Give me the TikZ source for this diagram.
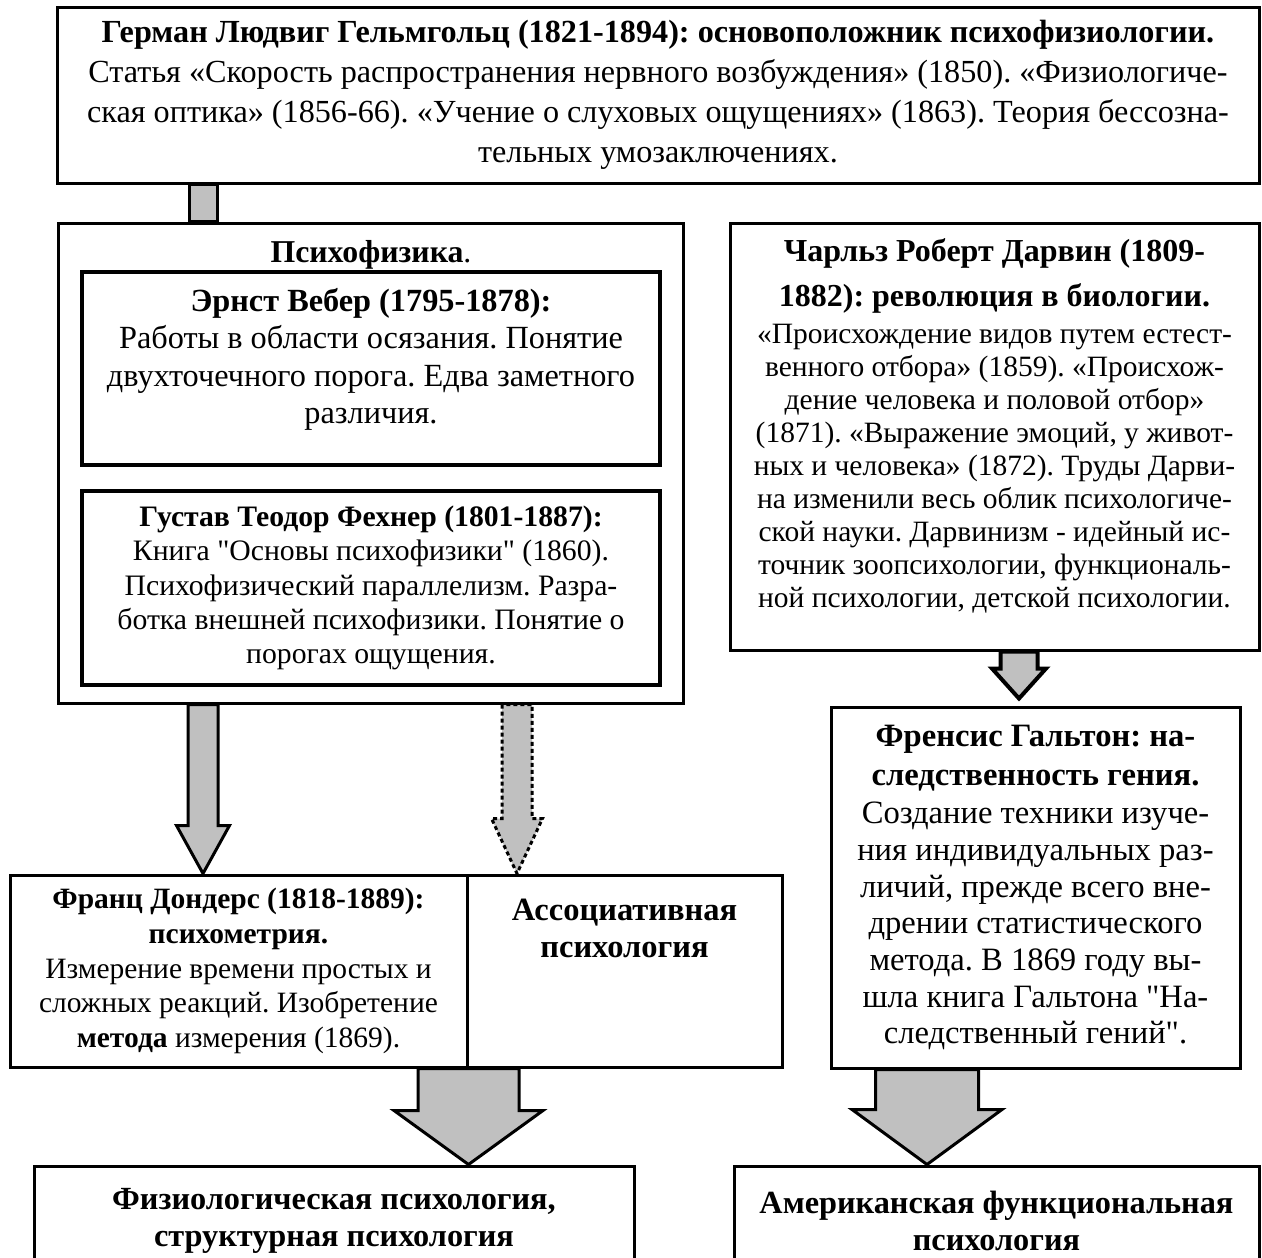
\documentclass[tikz,border=0pt]{standalone}
\usepackage{fontspec}
\setmainfont{Liberation Serif}
\newfontfamily\qfont{Liberation Serif}
\usetikzlibrary{calc, backgrounds}
\frenchspacing
\definecolor{arrowgray}{RGB}{192, 192, 192}
\tikzstyle{frame} = [rectangle, draw=black, line width=3pt, fill=white, inner sep=0pt, align=center]
\tikzstyle{blockarr} = [draw=black, fill=arrowgray, line width=3pt, line join=miter]
\tikzstyle{dottedarr} = [blockarr, dash pattern=on 4pt off 3pt]
\newcommand{\dq}{{\qfont"}}
% block arrow: start, tip, shaft half width, head half width, head length
\newcommand{\blockarrow}[6][]{%
  \draw[blockarr,#1] let \p1=(#2), \p2=(#3) in
    (\x1-#4pt,\y1) -- (\x1-#4pt,\y2+#6pt) -- (\x1-#5pt,\y2+#6pt) -- (\x2,\y2)
    -- (\x1+#5pt,\y2+#6pt) -- (\x1+#4pt,\y2+#6pt) -- (\x1+#4pt,\y1) -- cycle;}

\begin{document}
\begin{tikzpicture}[x=1pt, y=-1pt]

\useasboundingbox (0,0) rectangle (1262,1258);
\clip (0,0) rectangle (1262,1258);

% Helmholtz
\node[frame, minimum width=1202pt, minimum height=176pt, font=\fontsize{32.2}{40}\selectfont] (helm) at (658,95) {
    \textbf{Герман Людвиг Гельмгольц (1821-1894): основоположник психофизиологии.}\\
    Статья «Скорость распространения нервного возбуждения» (1850). «Физиологиче-\\
    ская оптика» (1856-66). «Учение о слуховых ощущениях» (1863). Теория бессозна-\\
    тельных умозаключениях.
};

% Psychophysics
\node[frame, minimum width=625pt, minimum height=480pt] (psy) at (370.5,463) {};
\node[font=\fontsize{31.8}{38}\selectfont, inner sep=0pt] (psytitle) at (371,255) {\textbf{Психофизика}.};
\node[frame, line width=3.5pt, minimum width=578pt, minimum height=193pt, text depth=25pt, font=\fontsize{32.3}{37.3}\selectfont] (weber) at (371,368.5) {
    \textbf{Эрнст Вебер (1795-1878):}\\
    Работы в области осязания. Понятие\\
    двухточечного порога. Едва заметного\\
    различия.
};
\node[frame, line width=3.5pt, minimum width=578pt, minimum height=194pt, font=\fontsize{29.7}{34.3}\selectfont] (fechner) at (371,588) {
    \textbf{Густав Теодор Фехнер (1801-1887):}\\
    Книга \dq Основы психофизики\dq{} (1860).\\
    Психофизический параллелизм. Разра-\\
    ботка внешней психофизики. Понятие о\\
    порогах ощущения.
};

% Darwin and Galton
\node[frame, minimum width=529pt, minimum height=427pt, text depth=26.5pt, font=\fontsize{29.5}{33}\selectfont] (darwin) at (994.5,436.5) {
    \textbf{\fontsize{32}{33}\selectfont Чарльз Роберт Дарвин (1809-}\\[12pt]
    \textbf{\fontsize{32}{33}\selectfont 1882): революция в биологии.}\\[4pt]
    «Происхождение видов путем естест-\\
    венного отбора» (1859). «Происхож-\\
    дение человека и половой отбор»\\
    (1871). «Выражение эмоций, у живот-\\
    ных и человека» (1872). Труды Дарви-\\
    на изменили весь облик психологиче-\\
    ской науки. Дарвинизм - идейный ис-\\
    точник зоопсихологии, функциональ-\\
    ной психологии, детской психологии.
};
\node[frame, minimum width=409pt, minimum height=361pt, font=\fontsize{32.6}{36.7}\selectfont] (galton) at (1035.5,887.5) {
    \textbf{Френсис Гальтон: на-}\\[3pt]
    \textbf{следственность гения.}\\[1pt]
    Создание техники изуче-\\
    ния индивидуальных раз-\\
    личий, прежде всего вне-\\
    дрении статистического\\
    метода. В 1869 году вы-\\
    шла книга Гальтона \dq На-\\
    следственный гений\dq .
};

% Donders and associative psychology
\node[frame, minimum width=457pt, minimum height=192pt, font=\fontsize{29.5}{34.8}\selectfont] (donders) at (238.5,971) {
    \textbf{Франц Дондерс (1818-1889):}\\
    \textbf{психометрия.}\\
    Измерение времени простых и\\
    сложных реакций. Изобретение\\
    \textbf{метода} измерения (1869).
};
\node[frame, minimum width=315pt, minimum height=192pt] (assoc) at (624.5,971) {};
\node[font=\bfseries\fontsize{32.5}{37}\selectfont, align=center, inner sep=0pt] (assoctext) at (624.5,928.5) {Ассоциативная\\психология};

% Results
\node[frame, minimum width=600pt, minimum height=110pt, font=\bfseries\fontsize{32.3}{37}\selectfont] (phys) at (334,1221) {Физиологическая психология,\\структурная психология};
\node[frame, minimum width=525pt, minimum height=110pt, font=\bfseries\fontsize{32.3}{37}\selectfont] (amer) at (996.5,1221) {Американская функциональная\\психология};

% Arrows
\begin{scope}[on background layer]
\draw[blockarr] (189,0 |- helm.south) rectangle (217,0 |- psy.north);
\blockarrow{203,0 |- psy.south}{203,0 |- donders.north}{15}{26.5}{48}
\blockarrow[dottedarr]{517,0 |- psy.south}{517,0 |- assoc.north}{15}{25.5}{55}
\blockarrow[line width=4pt]{1019,0 |- darwin.south}{$(1019,0 |- galton.north)+(0,-7)$}{18.5}{27}{30}
\blockarrow{donders.south east}{donders.south east |- phys.north}{50.5}{74.5}{54}
\blockarrow{927,0 |- galton.south}{927,0 |- amer.north}{51.5}{75}{55}
\end{scope}

\end{tikzpicture}
\end{document}
